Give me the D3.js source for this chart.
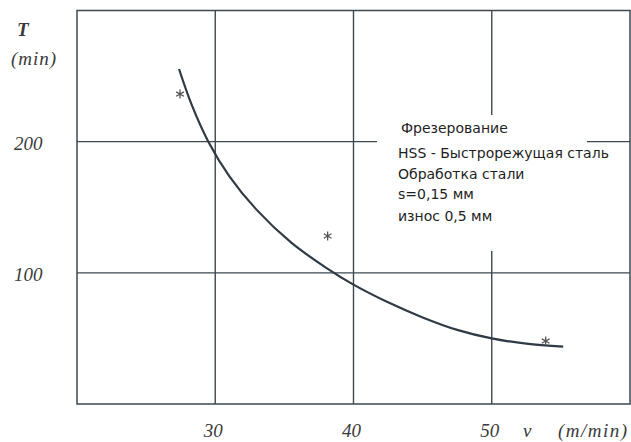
<!DOCTYPE html>
<html>
<head>
<meta charset="utf-8">
<script src="https://cdn.jsdelivr.net/npm/d3@7"></script>
<style>
  body { margin: 0; background: #fff; }
  svg { display: block; }
  .lbl { font-family: "Liberation Serif", serif; font-style: italic; fill: #3a3a3a; }
  .note { font-family: "DejaVu Sans", sans-serif; font-size: 14px; fill: #1e1e1e; }
</style>
</head>
<body>
<svg id="chart" width="631" height="442"></svg>
<script>
// tool life T (min) vs cutting speed v (m/min)
var curveV = [27.38, 28.3, 29.50, 31.0, 33.0, 35.5, 38.0, 40.0, 42.5, 45.0, 47.5, 50.0, 52.5, 55.17];
var curveT = [255.4, 228.0, 200.0, 174.0, 148.0, 123.0, 104.0, 91.0, 77.5, 66.0, 56.5, 50.0, 46.0, 43.7];
var pointV = [27.45, 38.13, 53.90];
var pointT = [236.3, 128.1, 48.0];
var xTicks = [30, 40, 50];
var yTicks = [100, 200];
var noteLines = ["Фрезерование", "HSS - Быстрорежущая сталь", "Обработка стали", "s=0,15 мм", "износ 0,5 мм"];

var svg = d3.select("#chart");
var x = d3.scaleLinear().domain([20, 60]).range([77, 630]);
var y = d3.scaleLinear().domain([0, 300]).range([404, 10.5]);
var ink = "#3d4852";

// grid
svg.selectAll(".vg").data(xTicks).enter().append("line")
  .attr("x1", function(d){return x(d)}).attr("x2", function(d){return x(d)})
  .attr("y1", y(0)).attr("y2", y(300))
  .attr("stroke", ink).attr("stroke-width", 1.4);
svg.selectAll(".hg").data(yTicks).enter().append("line")
  .attr("x1", x(20)).attr("x2", x(60))
  .attr("y1", function(d){return y(d)}).attr("y2", function(d){return y(d)})
  .attr("stroke", ink).attr("stroke-width", 1.4);

// white box behind the notes cuts the grid
svg.append("rect").attr("x", 377).attr("y", 115).attr("width", 210).attr("height", 136).attr("fill", "#fff");

// frame
svg.append("rect")
  .attr("x", x(20)).attr("y", y(300))
  .attr("width", x(60) - x(20)).attr("height", y(0) - y(300))
  .attr("fill", "none").attr("stroke", ink).attr("stroke-width", 1.5);

// curve
var pts = curveV.map(function(v, i){ return [v, curveT[i]]; });
var line = d3.line()
  .x(function(d){return x(d[0])})
  .y(function(d){return y(d[1])})
  .curve(d3.curveCatmullRom.alpha(0.5));
svg.append("path").datum(pts).attr("d", line)
  .attr("fill", "none").attr("stroke", "#2f3a44").attr("stroke-width", 2.2);

// measured points
var star = d3.symbol().type(d3.symbolAsterisk).size(55);
svg.selectAll(".pt").data(pointV).enter().append("path")
  .attr("d", star)
  .attr("transform", function(d, i){ return "translate(" + x(d) + "," + y(pointT[i]) + ")"; })
  .attr("fill", "none").attr("stroke", "#555").attr("stroke-width", 1.3);

// tick labels
svg.selectAll(".yl").data(yTicks).enter().append("text")
  .attr("class", "lbl").attr("x", 14).attr("y", function(d){return y(d) + 8.5})
  .style("font-size", "19px").text(function(d){return d});
svg.selectAll(".xl").data(xTicks).enter().append("text")
  .attr("class", "lbl").attr("x", function(d){return x(d) - 2}).attr("y", 437)
  .attr("text-anchor", "middle").style("font-size", "19px").text(function(d){return d});

// axis titles
svg.append("text").attr("class", "lbl").attr("x", 17).attr("y", 36)
  .style("font-size", "19px").style("font-weight", "bold").text("T");
svg.append("text").attr("class", "lbl").attr("x", 11).attr("y", 65)
  .style("font-size", "19px").style("letter-spacing", "1px").text("(min)");
svg.append("text").attr("class", "lbl").attr("x", 523).attr("y", 437)
  .style("font-size", "19px").text("v");
svg.append("text").attr("class", "lbl").attr("x", 558).attr("y", 437)
  .style("font-size", "19px").style("letter-spacing", "1.5px").text("(m/min)");

// notes
var noteY = [133, 158, 179, 199, 221];
svg.selectAll(".note").data(noteLines).enter().append("text")
  .attr("class", "note")
  .attr("x", function(d, i){ return i === 0 ? 401 : 398; })
  .attr("y", function(d, i){ return noteY[i]; })
  .text(function(d){return d});
</script>
</body>
</html>
